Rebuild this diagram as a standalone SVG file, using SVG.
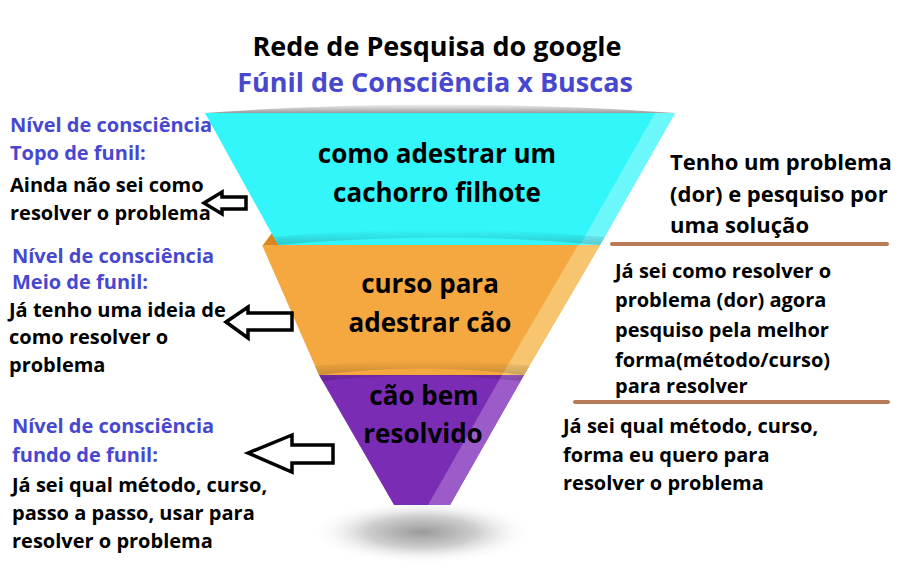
<svg xmlns="http://www.w3.org/2000/svg" width="904" height="582" viewBox="0 0 904 582">
<defs>
<style>
text{font-family:"Open Sans","Noto Sans","DejaVu Sans",sans-serif;font-weight:bold}
.t{fill:#000;font-size:20px}
.b{fill:#4747CF;font-size:20px}
.r1{fill:#000;font-size:22px}
.r2{fill:#000;font-size:20px}
.f{fill:#000;font-size:26px;text-anchor:middle}
.arrow{fill:#fff;stroke:#000;stroke-width:3.5;stroke-linejoin:miter}
.rule{stroke:#B97A57;stroke-width:4;stroke-linecap:round}
</style>
<radialGradient id="shadow" cx="0.5" cy="0.5" r="0.5">
<stop offset="0" stop-color="#9a9a9a"/>
<stop offset="0.5" stop-color="#cfcfcf"/>
<stop offset="1" stop-color="#ffffff" stop-opacity="0"/>
</radialGradient>
<linearGradient id="rim" x1="0" y1="0" x2="0" y2="1">
<stop offset="0" stop-color="#f2f2f2"/>
<stop offset="1" stop-color="#9c9c9c"/>
</linearGradient>
<linearGradient id="dk" x1="0" y1="0" x2="0" y2="1">
<stop offset="0" stop-color="#000" stop-opacity="0"/>
<stop offset="1" stop-color="#000" stop-opacity="0.18"/>
</linearGradient>
</defs>
<rect width="904" height="582" fill="#fff"/>

<g id="title">
<text x="437" y="56" font-size="27" text-anchor="middle" fill="#000">Rede de Pesquisa do google</text>
<text x="435" y="92" font-size="27" text-anchor="middle" fill="#4747CF">Fúnil de Consciência x Buscas</text>
</g>

<g id="shadow-base">
<ellipse cx="422" cy="532" rx="112" ry="32" fill="url(#shadow)"/>
</g>

<g id="funnel-bottom">
<polygon points="319,375 524,375 450,505 394,505" fill="#7A2DB4"/>
<polygon points="502,375 524,375 450,505 428,505" fill="#9B5BC9"/>
<polygon points="319,375 328,364 337,375" fill="#5A1E8A"/>
<path d="M319,375 Q421,362 524,375 L520,381 Q421,370 322,381 Z" fill="url(#dk)"/>
<text class="f" x="424" y="405">cão bem</text>
<text class="f" x="423" y="443">resolvido</text>
</g>

<g id="funnel-middle">
<polygon points="262,245 600,245 524,375 319,375" fill="#F5A840"/>
<polygon points="578,245 600,245 524,375 502,375" fill="#F7C46F"/>
<polygon points="263,245 272,233 280,245" fill="#D9861F"/>
<path d="M319,375 Q421,362 524,375 L530,366 Q421,354 314,366 Z" fill="url(#dk)"/>
<text class="f" x="430" y="293">curso para</text>
<text class="f" x="430" y="332">adestrar cão</text>
</g>

<g id="funnel-top">
<path d="M205,113 Q440,96 675,113 Z" fill="url(#rim)"/>
<polygon points="205,113 675,113 600,245 278,245" fill="#33F6FA"/>
<polygon points="655,113 675,113 600,245 580,245" fill="#6CF7FB"/>
<path d="M278,245 Q440,230 600,245 L605,237 Q440,222 274,237 Z" fill="url(#dk)"/>
<text class="f" x="437" y="163">como adestrar um</text>
<text class="f" x="437" y="202">cachorro filhote</text>
</g>

<g id="connectors">
<polygon class="arrow" points="204,203 222,192 222,197 246,197 246,209 222,209 222,214"/>
<polygon class="arrow" points="226,322 248,307 248,313 292,313 292,330 248,330 248,338"/>
<polygon class="arrow" points="248,453 292,435 292,445 333,445 333,463 292,463 292,472"/>
<line class="rule" x1="612" y1="244" x2="887" y2="244"/>
<line class="rule" x1="575" y1="402" x2="888" y2="402"/>
</g>

<g id="left-top">
<text class="b" x="10" y="132">Nível de consciência</text>
<text class="b" x="10" y="160">Topo de funil:</text>
<text class="t" x="10" y="192">Ainda não sei como</text>
<text class="t" x="10" y="220">resolver o problema</text>
</g>

<g id="left-middle">
<text class="b" x="12" y="263">Nível de consciência</text>
<text class="b" x="12" y="289">Meio de funil:</text>
<text class="t" x="9" y="317">Já tenho uma ideia de</text>
<text class="t" x="9" y="344">como resolver o</text>
<text class="t" x="9" y="372">problema</text>
</g>

<g id="left-bottom">
<text class="b" x="12" y="433">Nível de consciência</text>
<text class="b" x="12" y="462">fundo de funil:</text>
<text class="t" x="12" y="492">Já sei qual método, curso,</text>
<text class="t" x="12" y="520">passo a passo, usar para</text>
<text class="t" x="12" y="548">resolver o problema</text>
</g>

<g id="right-top">
<text class="r1" x="670" y="170">Tenho um problema</text>
<text class="r1" x="670" y="202">(dor) e pesquiso por</text>
<text class="r1" x="670" y="233">uma solução</text>
</g>

<g id="right-middle">
<text class="r2" x="615" y="278">Já sei como resolver o</text>
<text class="r2" x="615" y="307">problema (dor) agora</text>
<text class="r2" x="615" y="337">pesquiso pela melhor</text>
<text class="r2" x="615" y="367">forma(método/curso)</text>
<text class="r2" x="615" y="393">para resolver</text>
</g>

<g id="right-bottom">
<text class="t" x="563" y="433">Já sei qual método, curso,</text>
<text class="t" x="563" y="462">forma eu quero para</text>
<text class="t" x="563" y="490">resolver o problema</text>
</g>
</svg>
